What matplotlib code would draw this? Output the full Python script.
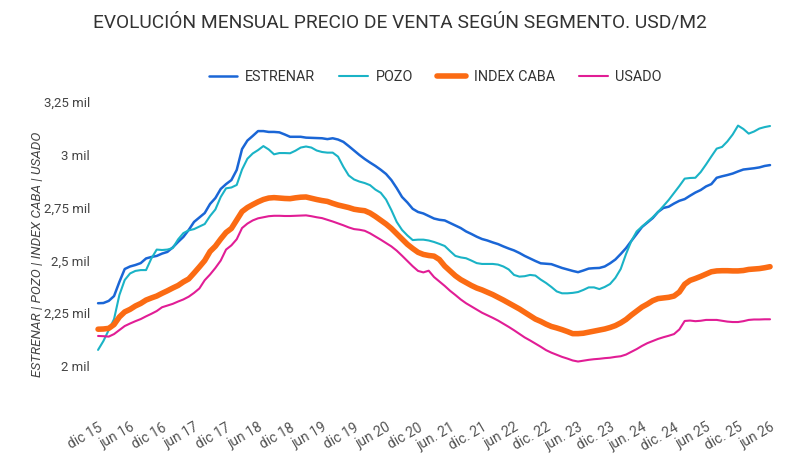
import matplotlib
matplotlib.use("Agg")
import matplotlib.pyplot as plt

plt.rcParams['font.family'] = ['Roboto', 'DejaVu Sans']

tick_labels = ["dic 15", "jun 16", "dic 16", "jun 17", "dic 17", "jun 18", "dic 18",
               "jun 19", "dic 19", "jun 20", "dic 20", "jun. 21", "dic. 21", "jun 22",
               "dic. 22", "jun. 23", "dic. 23", "jun. 24", "dic. 24", "jun 25",
               "dic. 25", "jun 26"]

estrenar = [2297, 2298, 2308, 2331, 2398, 2459, 2471, 2478, 2487, 2509,
            2516, 2521, 2532, 2540, 2561, 2587, 2611, 2644, 2682, 2703,
            2724, 2767, 2795, 2838, 2861, 2880, 2928, 3027, 3067, 3089,
            3112, 3112, 3108, 3108, 3106, 3096, 3085, 3085, 3085, 3081,
            3080, 3079, 3078, 3074, 3078, 3072, 3061, 3041, 3020, 2999,
            2980, 2963, 2947, 2929, 2909, 2880, 2842, 2800, 2774, 2744,
            2729, 2722, 2710, 2698, 2692, 2689, 2677, 2665, 2653, 2637,
            2625, 2612, 2601, 2594, 2585, 2577, 2566, 2556, 2547, 2535,
            2521, 2509, 2497, 2486, 2484, 2482, 2473, 2464, 2457, 2450,
            2444, 2452, 2461, 2463, 2464, 2471, 2486, 2504, 2530, 2558,
            2592, 2625, 2658, 2679, 2700, 2729, 2748, 2754, 2769, 2782,
            2790, 2806, 2821, 2833, 2850, 2861, 2891, 2898, 2904, 2911,
            2921, 2930, 2933, 2936, 2940, 2947, 2951]

pozo = [2076, 2118, 2170, 2222, 2336, 2407, 2438, 2450, 2454, 2454,
        2509, 2551, 2549, 2551, 2558, 2599, 2629, 2642, 2648, 2660,
        2672, 2710, 2741, 2800, 2841, 2845, 2857, 2930, 2981, 3006,
        3022, 3041, 3025, 3002, 3008, 3008, 3007, 3019, 3034, 3039,
        3034, 3020, 3013, 3010, 3010, 2991, 2943, 2902, 2883, 2873,
        2866, 2856, 2835, 2820, 2788, 2738, 2682, 2644, 2618, 2596,
        2598, 2598, 2594, 2587, 2578, 2568, 2544, 2521, 2514, 2510,
        2499, 2487, 2483, 2483, 2483, 2480, 2471, 2457, 2431, 2423,
        2425, 2431, 2428, 2409, 2393, 2374, 2353, 2344, 2344, 2346,
        2350, 2360, 2372, 2372, 2364, 2374, 2388, 2417, 2459, 2530,
        2592, 2637, 2660, 2682, 2704, 2729, 2757, 2786, 2819, 2852,
        2887, 2890, 2891, 2918, 2954, 2992, 3029, 3037, 3063, 3096,
        3138, 3122, 3100, 3110, 3124, 3131, 3136]

index_caba = [2174, 2175, 2178, 2196, 2232, 2256, 2268, 2284, 2296, 2312,
              2322, 2331, 2344, 2356, 2369, 2381, 2398, 2412, 2440, 2469,
              2499, 2542, 2567, 2601, 2632, 2651, 2691, 2731, 2750, 2764,
              2777, 2788, 2795, 2797, 2795, 2793, 2792, 2796, 2799, 2800,
              2794, 2788, 2783, 2779, 2770, 2762, 2756, 2750, 2742, 2738,
              2735, 2724, 2708, 2690, 2672, 2651, 2626, 2601, 2576, 2556,
              2538, 2528, 2523, 2520, 2504, 2473, 2450, 2427, 2409, 2395,
              2381, 2369, 2360, 2349, 2338, 2325, 2312, 2298, 2284, 2270,
              2254, 2238, 2222, 2211, 2198, 2187, 2180, 2172, 2163, 2153,
              2153, 2155, 2160, 2165, 2170, 2175, 2182, 2191, 2204, 2220,
              2241, 2260, 2279, 2293, 2309, 2319, 2322, 2325, 2331, 2350,
              2387, 2405, 2414, 2424, 2435, 2446, 2450, 2451, 2451, 2450,
              2450, 2452, 2457, 2459, 2461, 2465, 2470]

usado = [2142, 2141, 2139, 2151, 2170, 2189, 2201, 2212, 2222, 2235,
         2247, 2260, 2278, 2286, 2294, 2305, 2315, 2328, 2346, 2367,
         2406, 2433, 2464, 2499, 2551, 2571, 2600, 2653, 2674, 2689,
         2699, 2704, 2709, 2711, 2711, 2710, 2710, 2711, 2712, 2713,
         2709, 2704, 2700, 2692, 2684, 2675, 2666, 2656, 2648, 2645,
         2640, 2628, 2613, 2598, 2582, 2566, 2546, 2522, 2497, 2472,
         2450, 2443, 2451, 2421, 2400, 2379, 2356, 2336, 2315, 2297,
         2282, 2267, 2252, 2240, 2228, 2215, 2200, 2185, 2169, 2152,
         2135, 2121, 2106, 2091, 2075, 2063, 2053, 2043, 2035, 2026,
         2021, 2025, 2029, 2032, 2034, 2037, 2039, 2043, 2046, 2054,
         2067, 2080, 2095, 2108, 2118, 2128, 2136, 2143, 2151, 2173,
         2213, 2215, 2212, 2214, 2218, 2218, 2218, 2214, 2210, 2208,
         2208, 2212, 2218, 2220, 2220, 2221, 2221]

y_ticks = [2000, 2250, 2500, 2750, 3000, 3250]
y_tick_labels = ["2 mil", "2,25 mil", "2,5 mil", "2,75 mil", "3 mil", "3,25 mil"]

fig = plt.figure(figsize=(8, 4.72), dpi=100)
ax = fig.add_axes([0.1159, 0.1799, 0.8533, 0.6265])

x = list(range(len(estrenar)))
ax.plot(x, estrenar, color="#1a66d6", lw=1.8, label="ESTRENAR", solid_capstyle="round")
ax.plot(x, pozo, color="#1ab3c6", lw=1.5, label="POZO", solid_capstyle="round")
ax.plot(x, index_caba, color="#fb6b13", lw=4.0, label="INDEX CABA", solid_capstyle="round")
ax.plot(x, usado, color="#e11d95", lw=1.5, label="USADO", solid_capstyle="round")

ax.set_xlim(-1, len(estrenar))
ax.set_ylim(1900, 3300)
ax.set_yticks(y_ticks)
ax.set_yticklabels(y_tick_labels)
ax.set_xticks(list(range(0, 6 * len(tick_labels), 6)))
ax.set_xticklabels(tick_labels, rotation=30, ha="right", rotation_mode="anchor")

for s in ax.spines.values():
    s.set_visible(False)
ax.tick_params(axis="both", length=0, colors="#444444", labelsize=9.5)
ax.tick_params(axis="x", labelsize=10, pad=24, colors="#555555")
ax.tick_params(axis="y", pad=2)

ax.set_ylabel("ESTRENAR | POZO | INDEX CABA | USADO", fontsize=9.7, style="italic",
              color="#444444", labelpad=10)
ax.yaxis.set_label_coords(-0.072, 0.45)

fig.text(0.5, 1 - 22 / 472, "EVOLUCIÓN MENSUAL PRECIO DE VENTA SEGÚN SEGMENTO. USD/M2",
         ha="center", va="center", fontsize=13.8, color="#333333")

fig.legend(loc="center", bbox_to_anchor=(0.544, 1 - 77 / 472), ncol=4, frameon=False,
           fontsize=10.4, handlelength=2.0, handletextpad=0.5, columnspacing=1.7,
           labelcolor="#333333")

fig.savefig("out.png", dpi=100, facecolor="white")
